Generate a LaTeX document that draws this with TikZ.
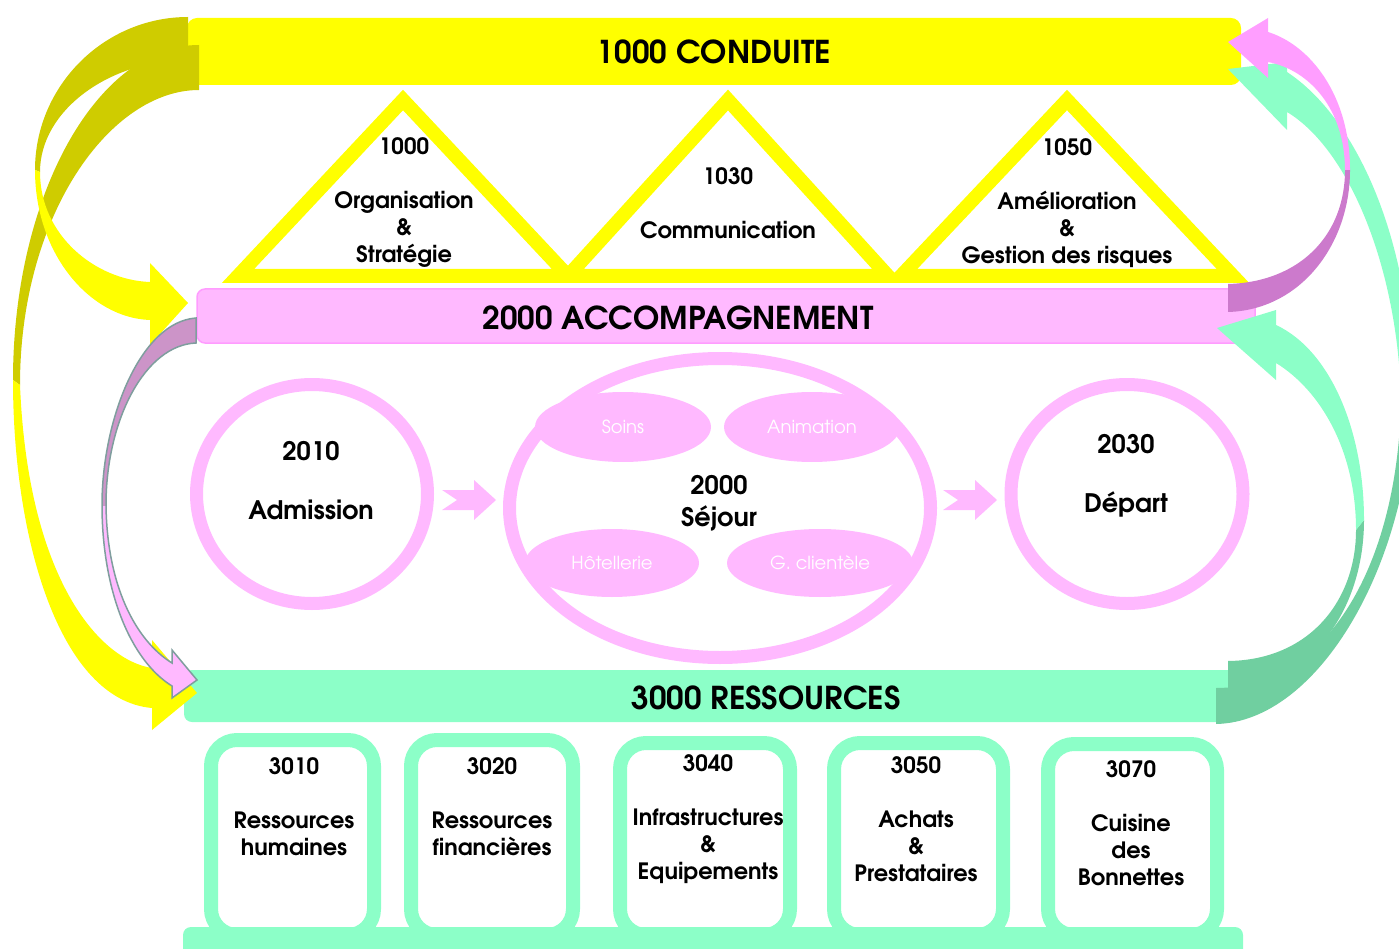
\documentclass[tikz,border=0pt]{standalone}
\usepackage{fontspec}
\setmainfont{TeX Gyre Adventor}
\usetikzlibrary{shapes.geometric}

\definecolor{jaune}{HTML}{FFFF00}
\definecolor{jaunefonce}{HTML}{CFCC00}
\definecolor{rose}{HTML}{FFB9FF}
\definecolor{rosebord}{HTML}{FF9CFF}
\definecolor{rosevif}{HTML}{FF9EFF}
\definecolor{mauve}{HTML}{CC7ACC}
\definecolor{mauvegris}{HTML}{CC94C8}
\definecolor{gris}{HTML}{7F9E9E}
\definecolor{vert}{HTML}{8CFFC8}
\definecolor{vertfonce}{HTML}{70CFA0}

\tikzset{
  bande/.style={rectangle, inner sep=0pt},
  titre/.style={font=\bfseries\fontsize{31.5}{36}\selectfont},
  texte/.style={font=\bfseries\fontsize{22.5}{27}\selectfont, align=center},
  grostexte/.style={font=\bfseries\fontsize{25.5}{30}\selectfont, align=center},
  tri/.style={draw=jaune, line width=14pt, line join=miter, fill=white},
  anneau/.style={ellipse, draw=rose, line width=13pt, inner sep=0pt},
  bulle/.style={ellipse, fill=rose, inner sep=0pt, text=white, font=\fontsize{18}{20}\selectfont},
  boite/.style={rectangle, draw=vert, line width=14pt, fill=white, rounded corners=26pt, inner sep=0pt},
  chevron/.pic={\fill[rose] (0,-10) -- (32,-10) -- (32,-20) -- (54,0) -- (32,20) -- (32,10) -- (0,10) -- (15,0) -- cycle;}
}

\begin{document}
\begin{tikzpicture}[x=1pt, y=-1pt]
\useasboundingbox (0,0) rectangle (1399,949);

\node[bande, fill=jaune, rounded corners=10pt, minimum width=1054pt, minimum height=67pt, titre] (conduite) at (714,51.5) {1000 CONDUITE};
\draw[tri] (403,100) -- (568,276) -- (238,276) -- cycle;
\draw[tri] (728,100) -- (888,276) -- (568,276) -- cycle;
\draw[tri] (1067,100) -- (1233,276) -- (901,276) -- cycle;
\node[texte] (orga) at (404,203) {1000\\[27pt]Organisation\\\&\\Stratégie};
\node[texte] (comm) at (728,203) {1030\\[27pt]Communication};
\node[texte] (amelio) at (1067,203) {1050\\[27pt]Amélioration\\\&\\Gestion des risques};

\node[bande, fill=rose, draw=rosebord, line width=1.5pt, rounded corners=8pt, minimum width=1058pt, minimum height=54pt] (accomp) at (726,316) {};
\node[titre] (accomptexte) at (678,318) {2000 ACCOMPAGNEMENT};

\node[anneau, minimum width=231pt, minimum height=219pt] (admission) at (312,494) {};
\node[grostexte] (admtexte) at (311,481) {2010\\[29pt]Admission};
\node[anneau, minimum width=421pt, minimum height=299pt] (sejour) at (720,508) {};
\node[bulle, minimum width=176pt, minimum height=70pt] (soins) at (623,427) {Soins};
\node[bulle, minimum width=176pt, minimum height=70pt] (animation) at (812,427) {Animation};
\node[bulle, minimum width=174pt, minimum height=68pt] (hotel) at (612,563) {Hôtellerie};
\node[bulle, minimum width=186pt, minimum height=68pt] (clientele) at (820,563) {G. clientèle};
\node[grostexte] (sejtexte) at (719,503) {2000\\[2pt]Séjour};
\node[anneau, minimum width=232pt, minimum height=219pt] (depart) at (1127,494) {};
\node[grostexte] (deptexte) at (1126,476) {2030\\[29pt]Départ};
\pic at (442,500) {chevron};
\pic at (943,500) {chevron};

\node[bande, fill=vert, rounded corners=8pt, minimum width=1056pt, minimum height=52pt] (ressources) at (712,696) {};
\node[titre] (restexte) at (766,698) {3000 RESSOURCES};
\node[boite, minimum width=163pt, minimum height=195pt] (rh) at (292.5,837.5) {};
\node[boite, minimum width=162pt, minimum height=195pt] (fin) at (492,837.5) {};
\node[boite, minimum width=170pt, minimum height=192pt] (infra) at (705,839) {};
\node[boite, minimum width=169pt, minimum height=192pt] (achats) at (918.5,839) {};
\node[boite, minimum width=169pt, minimum height=191pt] (cuisine) at (1132.5,839.5) {};
\node[bande, fill=vert, rounded corners=8pt, minimum width=1060pt, minimum height=40pt] (socle) at (713,947) {};
\node[texte] (rhtexte) at (294,807) {3010\\[27pt]Ressources\\humaines};
\node[texte] (fintexte) at (492,807) {3020\\[27pt]Ressources\\financières};
\node[texte] (infratexte) at (708,819) {3040\\[27pt]Infrastructures\\\&\\Equipements};
\node[texte] (achtexte) at (916,819) {3050\\[27pt]Achats\\\&\\Prestataires};
\node[texte] (cuistexte) at (1131,823) {3070\\[27pt]Cuisine\\des\\Bonnettes};

% fleches de gauche
\fill[jaunefonce] (199,45) .. controls (97,45) and (13,196) .. (13,380) -- (20,385) .. controls (20,215) and (110,90) .. (199,90) -- cycle;
\fill[jaune] (13,380) .. controls (13,540) and (60,700) .. (152,708) -- (152,730) -- (197,693) -- (152,640) -- (152,668) .. controls (100,660) and (28,580) .. (20,385) -- cycle;
\fill[jaunefonce] (188,17) .. controls (104,17) and (35,86) .. (35,170) -- (40,172) .. controls (40,110) and (110,60) .. (188,60) -- cycle;
\fill[jaune] (35,170) .. controls (35,254) and (90,318) .. (150,320) -- (150,345) -- (188,303) -- (150,263) -- (150,282) .. controls (95,280) and (40,235) .. (40,172) -- cycle;
\path[save path=\cheminF] (196,318) .. controls (140,322) and (102,420) .. (102,505) .. controls (102,590) and (130,660) .. (172,686) -- (172,698) -- (197,680) -- (172,650) -- (172,663) .. controls (135,640) and (107,585) .. (106,505) .. controls (106,420) and (145,345) .. (196,343) -- cycle;
\fill[rose, use path=\cheminF];
\begin{scope}
\clip (0,0) rectangle (260,505);
\fill[mauvegris, use path=\cheminF];
\end{scope}
\draw[gris, line width=1.5pt, use path=\cheminF];

% fleches de droite
\fill[vert] (1412,400) .. controls (1414,250) and (1360,120) .. (1287,72) -- (1287,62) -- (1228,69) -- (1287,130) -- (1287,112) .. controls (1350,150) and (1398,270) .. (1401,400) -- cycle;
\fill[vertfonce] (1216,724) .. controls (1320,722) and (1410,560) .. (1412,400) -- (1401,400) .. controls (1398,560) and (1330,688) .. (1216,688) -- cycle;
\fill[vertfonce] (1228,688) .. controls (1310,686) and (1364,610) .. (1364,520) -- (1356,530) .. controls (1356,600) and (1310,660) .. (1228,661) -- cycle;
\fill[vert] (1364,520) .. controls (1364,430) and (1330,350) .. (1276,325) -- (1276,310) -- (1217,328) -- (1276,380) -- (1276,363) .. controls (1320,390) and (1356,450) .. (1356,530) -- cycle;
\fill[mauve] (1228,312) .. controls (1300,310) and (1350,245) .. (1350,170) -- (1345,170) .. controls (1345,235) and (1300,282) .. (1228,284) -- cycle;
\fill[rosevif] (1350,170) .. controls (1350,95) and (1310,45) .. (1268,32) -- (1268,18) -- (1228,42) -- (1268,78) -- (1268,62) .. controls (1310,70) and (1345,110) .. (1345,170) -- cycle;
\end{tikzpicture}
\end{document}
